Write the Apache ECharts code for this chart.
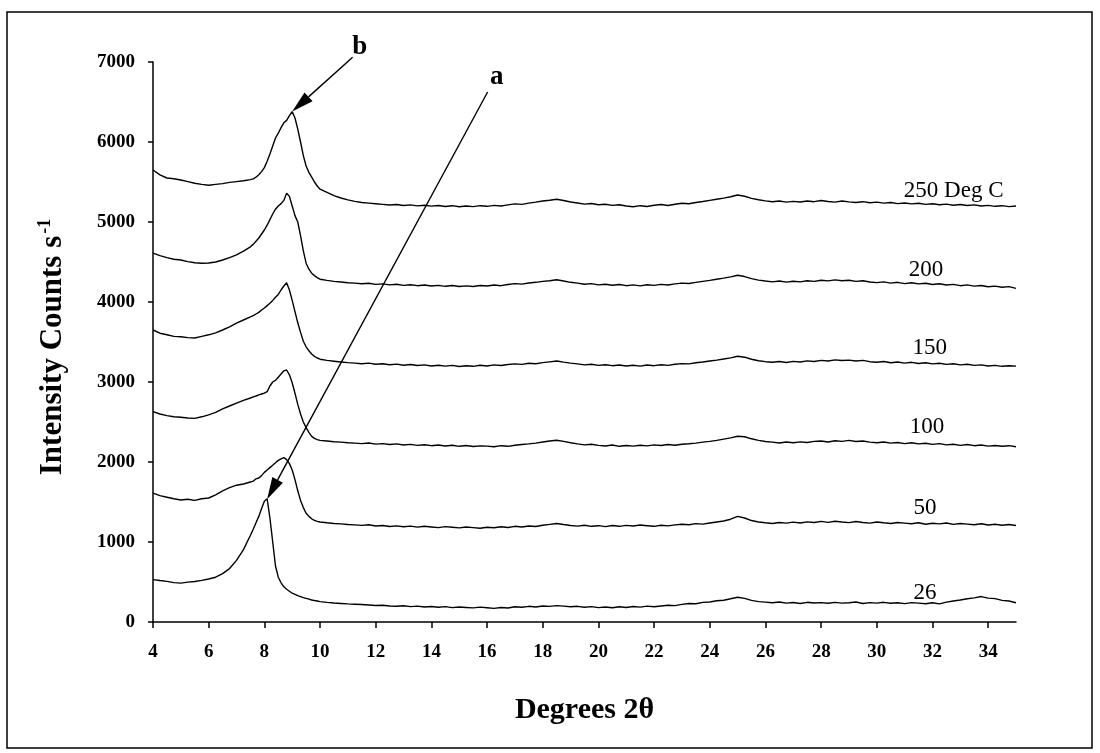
<!DOCTYPE html>
<html><head><meta charset="utf-8">
<script src="https://cdn.jsdelivr.net/npm/echarts@6/dist/echarts.min.js"></script>
<style>html,body{margin:0;padding:0;background:#fff}#c{width:1100px;height:753px}</style>
</head><body><div id="c"></div>
<script>
// sampling positions (degrees 2-theta)
const xs = [
  4,4.25,4.5,4.75,5,5.25,5.5,5.75,6,6.25,6.5,6.75,7,7.25,7.5,
  7.6,7.7,7.8,7.9,8,8.1,8.2,8.3,8.4,8.5,8.6,8.7,8.8,8.9,9,9.1,9.2,9.3,9.4,9.5,9.6,9.7,9.8,9.9,10,
  10.25,10.5,10.75,11, 11.25,11.5,11.75,12, 12.25,12.5,12.75,13, 13.25,13.5,13.75,14,
  14.25,14.5,14.75,15, 15.25,15.5,15.75,16, 16.25,16.5,16.75,17, 17.25,17.5,17.75,18,
  18.25,18.5,18.75,19, 19.25,19.5,19.75,20, 20.25,20.5,20.75,21, 21.25,21.5,21.75,22,
  22.25,22.5,22.75,23, 23.25,23.5,23.75,24, 24.25,24.5,24.75,25, 25.25,25.5,25.75,26,
  26.25,26.5,26.75,27, 27.25,27.5,27.75,28, 28.25,28.5,28.75,29, 29.25,29.5,29.75,30,
  30.25,30.5,30.75,31, 31.25,31.5,31.75,32, 32.25,32.5,32.75,33, 33.25,33.5,33.75,34,
  34.25,34.5,34.75,35
];
const c26 = [
  530,518,508,492,486,498,506,520,538,560,605,668,770,905,1085,
  1160,1240,1320,1420,1510,1540,1300,1000,700,560,490,440,410,385,360,345,330,318,305,295,285,275,268,262,255,
  245,238,232,226, 222,218,212,206, 210,200,196,203, 192,198,188,194,
  185,192,180,188, 182,176,186,178, 170,182,175,190, 184,196,188,200,
  195,205,198,190, 196,185,192,180, 188,178,190,182, 194,186,198,190,
  200,210,205,220, 232,228,245,250, 265,272,290,310, 295,270,255,248,
  240,250,236,244, 232,246,238,242, 234,245,236,240, 250,232,242,236,
  246,234,240,230, 242,236,228,240, 226,248,262,275, 290,302,318,298,
  292,270,262,240
];
const c50 = [
  1610,1580,1560,1540,1525,1535,1520,1540,1550,1590,1640,1680,1710,1725,1750,
  1760,1790,1800,1830,1870,1900,1930,1960,1990,2020,2040,2055,2030,1980,1900,1780,1640,1520,1430,1360,1320,1290,1270,1258,1250,
  1240,1232,1226,1218, 1214,1208,1216,1200, 1206,1194,1202,1190, 1198,1186,1196,1188,
  1180,1192,1184,1176, 1188,1180,1172,1184, 1178,1190,1182,1196, 1188,1200,1194,1210,
  1220,1232,1218,1206, 1198,1210,1196,1204, 1192,1206,1196,1208, 1200,1212,1204,1196,
  1210,1202,1214,1222, 1216,1230,1224,1238, 1250,1262,1285,1320, 1300,1268,1250,1240,
  1232,1244,1236,1248, 1238,1252,1244,1258, 1246,1260,1250,1242, 1256,1244,1236,1250,
  1240,1232,1244,1236, 1228,1240,1222,1234, 1226,1238,1220,1232, 1224,1216,1228,1212,
  1222,1210,1218,1206
];
const c100 = [
  2630,2600,2580,2565,2560,2550,2545,2565,2590,2620,2665,2700,2735,2770,2800,
  2815,2825,2840,2850,2860,2880,2950,3000,3020,3060,3100,3140,3150,3090,2990,2860,2720,2600,2500,2430,2370,2320,2295,2280,2270,
  2262,2254,2248,2240, 2236,2230,2238,2224, 2230,2218,2226,2212, 2220,2208,2216,2204,
  2212,2200,2210,2196, 2206,2194,2202,2198, 2190,2204,2196,2210, 2218,2226,2236,2250,
  2262,2272,2258,2240, 2226,2214,2222,2208, 2200,2212,2196,2206, 2198,2210,2202,2214,
  2206,2218,2210,2222, 2228,2236,2248,2258, 2270,2286,2302,2322, 2316,2290,2270,2256,
  2248,2238,2250,2240, 2252,2244,2258,2262, 2250,2266,2258,2270, 2256,2262,2248,2240,
  2250,2236,2244,2230, 2240,2226,2234,2220, 2230,2214,2222,2208, 2218,2204,2212,2198,
  2206,2196,2204,2190
];
const c150 = [
  3650,3610,3590,3570,3565,3555,3550,3570,3590,3615,3650,3690,3735,3775,3815,
  3830,3850,3870,3900,3925,3955,3985,4020,4060,4095,4150,4200,4240,4150,4020,3880,3740,3620,3510,3440,3390,3350,3320,3300,3285,
  3270,3260,3250,3242, 3236,3228,3236,3222, 3228,3216,3224,3210, 3218,3206,3214,3200,
  3210,3198,3208,3194, 3204,3196,3210,3200, 3214,3206,3218,3226, 3220,3234,3228,3242,
  3252,3262,3248,3236, 3226,3214,3222,3208, 3216,3204,3212,3200, 3210,3198,3212,3204,
  3216,3208,3222,3230, 3226,3240,3250,3262, 3274,3288,3302,3322, 3310,3284,3266,3254,
  3246,3256,3244,3258, 3250,3264,3256,3270, 3262,3276,3268,3274, 3262,3270,3254,3246,
  3256,3240,3250,3236, 3246,3232,3240,3226, 3234,3220,3228,3214, 3222,3208,3214,3200,
  3208,3196,3204,3198
];
const c200 = [
  4610,4580,4555,4535,4525,4505,4490,4485,4488,4500,4525,4555,4590,4635,4690,
  4720,4760,4800,4850,4900,4960,5030,5100,5160,5200,5230,5270,5360,5320,5200,5080,5000,4830,4640,4485,4410,4360,4330,4305,4285,
  4270,4258,4250,4240, 4236,4228,4234,4220, 4226,4214,4222,4208, 4216,4204,4212,4200,
  4208,4196,4206,4194, 4202,4194,4206,4200, 4212,4204,4218,4230, 4224,4238,4246,4258,
  4266,4278,4262,4246, 4236,4222,4230,4214, 4222,4210,4218,4204, 4214,4202,4216,4208,
  4220,4212,4226,4236, 4232,4246,4258,4270, 4284,4298,4314,4334, 4318,4292,4274,4262,
  4252,4262,4248,4260, 4252,4266,4258,4272, 4264,4276,4266,4272, 4258,4266,4250,4242,
  4252,4236,4246,4230, 4240,4226,4234,4218, 4228,4212,4220,4204, 4214,4198,4206,4190,
  4198,4184,4192,4170
];
const c250 = [
  5650,5590,5550,5540,5525,5505,5485,5470,5460,5470,5480,5495,5505,5515,5530,
  5540,5560,5590,5630,5680,5760,5850,5950,6050,6110,6180,6240,6270,6330,6380,6300,6160,6000,5830,5700,5620,5560,5500,5450,5410,
  5370,5330,5300,5276, 5258,5244,5236,5228, 5220,5212,5218,5206, 5214,5202,5210,5198,
  5206,5194,5204,5190, 5200,5192,5204,5196, 5208,5200,5214,5226, 5220,5236,5248,5262,
  5272,5284,5268,5250, 5238,5224,5232,5216, 5222,5208,5216,5200, 5190,5204,5194,5210,
  5218,5206,5222,5234, 5228,5244,5256,5270, 5284,5298,5316,5338, 5322,5296,5278,5264,
  5254,5262,5248,5258, 5250,5262,5254,5268, 5256,5248,5262,5252, 5244,5254,5240,5248,
  5236,5244,5230,5238, 5226,5234,5220,5228, 5216,5224,5210,5218, 5206,5214,5200,5208,
  5196,5204,5192,5200
];
const curveNames = ['26', '50', '100', '150', '200', '250 Deg C'];
const curves = [c26, c50, c100, c150, c200, c250];
const xTicks = [4,6,8,10,12,14,16,18,20,22,24,26,28,30,32,34];
const yTicks = [0,1000,2000,3000,4000,5000,6000,7000];

const SERIF = 'Liberation Serif';
const chart = echarts.init(document.getElementById('c'), null, {renderer: 'canvas'});

const series = curves.map((ys, k) => ({
  name: curveNames[k],
  type: 'line',
  data: xs.map((x, i) => [x, ys[i]]),
  showSymbol: false,
  symbol: 'none',
  lineStyle: {color: '#000', width: 1.4},
  animation: false,
  z: 3
}));

const plain = v => String(v);

chart.setOption({
  animation: false,
  backgroundColor: '#fff',
  grid: {left: 153, right: 84, top: 62, bottom: 131, containLabel: false, outerBoundsMode: 'none'},
  xAxis: {
    type: 'value', min: 4, max: 35, interval: 2,
    axisLine: {lineStyle: {color: '#000', width: 1.5}},
    axisTick: {length: 6, lineStyle: {color: '#000', width: 1.5}, customValues: xTicks},
    axisLabel: {customValues: xTicks, formatter: plain, margin: 21, color: '#000', fontFamily: SERIF, fontWeight: 'bold', fontSize: 19},
    splitLine: {show: false},
    name: 'Degrees 2θ', nameLocation: 'middle', nameGap: 73,
    nameTextStyle: {color: '#000', fontFamily: SERIF, fontWeight: 'bold', fontSize: 30}
  },
  yAxis: {
    type: 'value', min: 0, max: 7000, interval: 1000,
    axisLine: {show: true, lineStyle: {color: '#000', width: 1.5}},
    axisTick: {show: true, length: 5, lineStyle: {color: '#000', width: 1.5}, customValues: yTicks},
    axisLabel: {customValues: yTicks, formatter: plain, margin: 18, color: '#000', fontFamily: SERIF, fontWeight: 'bold', fontSize: 19},
    splitLine: {show: false}
  },
  series: series
});

function P(x, y) { return chart.convertToPixel({gridIndex: 0}, [x, y]); }

function arrow(from, to) {
  const dx = to[0] - from[0], dy = to[1] - from[1];
  const len = Math.hypot(dx, dy);
  const ux = dx / len, uy = dy / len;
  const L = 22, W = 6;
  const bx = to[0] - ux * L, by = to[1] - uy * L;
  return [
    {type: 'line', shape: {x1: from[0], y1: from[1], x2: bx, y2: by}, style: {stroke: '#000', lineWidth: 1.4}, z: 10},
    {type: 'polygon', shape: {points: [[to[0], to[1]], [bx - uy * W, by + ux * W], [bx + uy * W, by - ux * W]]}, style: {fill: '#000'}, z: 10}
  ];
}

// curve label anchors (data coordinates)
const labelAt = [[31.73, 362], [31.73, 1425], [31.8, 2437], [31.9, 3425], [31.77, 4400], [32.76, 5387]];
const g = [];
curveNames.forEach((n, k) => {
  const p = P(labelAt[k][0], labelAt[k][1]);
  g.push({type: 'text', x: p[0], y: p[1], z: 10,
    style: {text: n, fill: '#000', font: '23px "' + SERIF + '"', align: 'center', verticalAlign: 'middle'}});
});
// arrows
arrow(P(11.17, 7060), P(9.0, 6380)).forEach(e => g.push(e));
arrow(P(16.02, 6625), P(8.1, 1535)).forEach(e => g.push(e));
const pb = P(11.43, 7190), pa = P(16.35, 6810);
g.push({type: 'text', x: pb[0], y: pb[1], z: 10, style: {text: 'b', fill: '#000', font: 'bold 27px "' + SERIF + '"', align: 'center', verticalAlign: 'middle'}});
g.push({type: 'text', x: pa[0], y: pa[1], z: 10, style: {text: 'a', fill: '#000', font: 'bold 27px "' + SERIF + '"', align: 'center', verticalAlign: 'middle'}});
// y axis title
g.push({type: 'text', x: 53, y: 347, rotation: Math.PI / 2, z: 10,
  style: {
    text: '{n|Intensity Counts s}{s|-1}',
    align: 'center', verticalAlign: 'middle',
    rich: {
      n: {font: 'bold 31px "' + SERIF + '"', fill: '#000', lineHeight: 34},
      s: {font: 'bold 18px "' + SERIF + '"', fill: '#000', verticalAlign: 'top', lineHeight: 34, padding: [0, 0, 14, 2]}
    }
  }});
// outer frame
g.push({type: 'rect', shape: {x: 7, y: 12, width: 1085, height: 736}, style: {fill: 'none', stroke: '#000', lineWidth: 1.5}, z: 0});

chart.setOption({graphic: g});
</script>
</body></html>
